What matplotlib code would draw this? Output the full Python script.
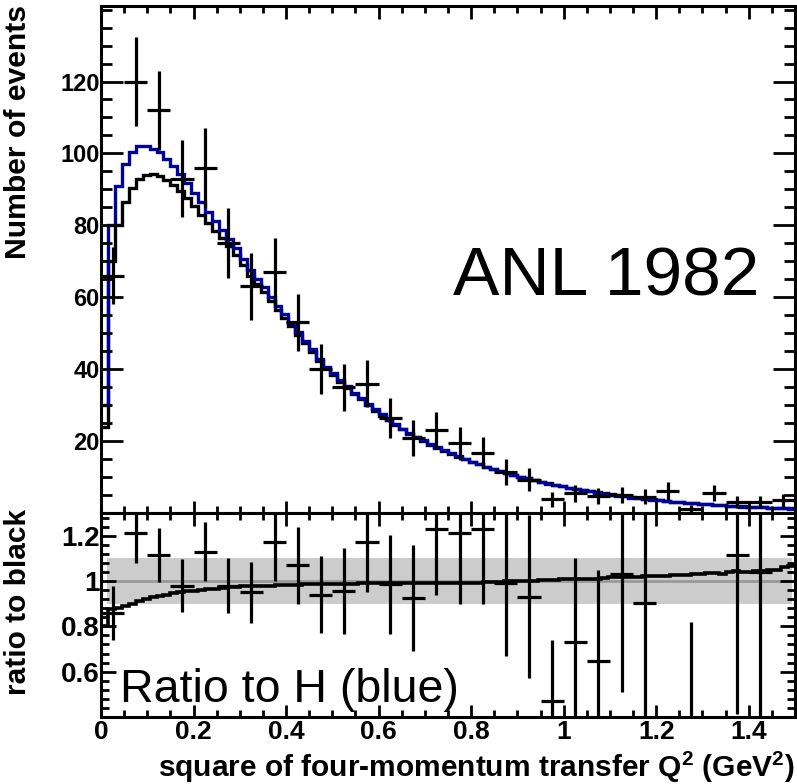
import numpy as np
import matplotlib
matplotlib.use("Agg")
import matplotlib.pyplot as plt
from matplotlib.ticker import MultipleLocator, FixedLocator, FuncFormatter

plt.rcParams['font.family'] = ['Liberation Sans', 'DejaVu Sans']
plt.rcParams['mathtext.fontset'] = 'custom'
plt.rcParams['mathtext.rm'] = 'Liberation Sans'
plt.rcParams['mathtext.bf'] = 'Liberation Sans:bold'

# MC histograms: 100 bins between 0 and 1.5 GeV^2
q2_lo, q2_hi, n_bins = 0.0, 1.5, 100

blue_h = [30, 80, 91, 97, 100.5, 102, 102, 101.3, 100.3, 98.5,
          96.6, 94.3, 91.8, 89.1, 86.4, 83.6, 81.2, 78.8, 76.3, 73.6,
          70.7, 67.5, 65.2, 62.8, 60.2, 57.6, 55.3, 52.8, 50.3, 47.9,
          45.5, 42.8, 40.7, 38.8, 37.0, 35.2, 33.5, 31.9, 30.3, 28.8,
          27.4, 26.0, 24.7, 23.5, 22.3, 21.2, 20.2, 19.2, 18.3, 17.4,
          16.6, 15.8, 15.0, 14.3, 13.6, 12.9, 12.3, 11.7, 11.1, 10.6,
          10.1, 9.6, 9.1, 8.7, 8.2, 7.8, 7.4, 7.0, 6.7, 6.3,
          6.0, 5.7, 5.4, 5.1, 4.8, 4.6, 4.3, 4.1, 3.9, 3.7,
          3.5, 3.3, 3.1, 2.95, 2.8, 2.65, 2.5, 2.4, 2.25, 2.15,
          2.0, 1.9, 1.8, 1.7, 1.6, 1.55, 1.45, 1.4, 1.3, 1.25]

black_h = [24, 70, 80, 86.5, 90.5, 92.8, 94.0, 94.2, 93.8, 92.6,
           91.3, 89.6, 87.7, 85.3, 83.0, 80.6, 78.5, 76.4, 74.2, 71.7,
           69.0, 66.0, 63.8, 61.5, 59.0, 56.5, 54.3, 51.9, 49.5, 47.2,
           44.8, 42.2, 40.2, 38.3, 36.5, 34.8, 33.1, 31.6, 30.0, 28.5,
           27.1, 25.8, 24.5, 23.3, 22.1, 21.0, 20.0, 19.0, 18.1, 17.25,
           16.45, 15.65, 14.9, 14.2, 13.5, 12.85, 12.25, 11.65, 11.1, 10.6,
           10.1, 9.6, 9.1, 8.75, 8.25, 7.85, 7.45, 7.05, 6.77, 6.35,
           6.06, 5.76, 5.47, 5.18, 4.88, 4.68, 4.38, 4.18, 3.98, 3.78,
           3.58, 3.38, 3.18, 3.03, 2.88, 2.73, 2.58, 2.48, 2.33, 2.22,
           2.08, 1.98, 1.87, 1.77, 1.67, 1.62, 1.52, 1.47, 1.38, 1.33]

# ANL 1982 data, bins of 0.05 GeV^2
data_q2 = [0.025, 0.075, 0.125, 0.175, 0.225, 0.275, 0.325, 0.375, 0.425, 0.475,
           0.525, 0.575, 0.625, 0.675, 0.725, 0.775, 0.825, 0.875, 0.925, 0.975,
           1.025, 1.075, 1.125, 1.175, 1.225, 1.275, 1.325, 1.375, 1.425, 1.475]
data_n = [66, 120, 112, 93, 96, 75, 63, 67, 53, 40,
          35, 36, 26.4, 20.8, 23, 19.4, 16.7, 11.4, 9.3, 3.8,
          5.5, 4.7, 5.0, 4.5, 6.2, 1.2, 5.5, 3.0, 3.0, 3.5]
data_err = [8, 12.3, 11, 10.8, 11, 9.7, 9.2, 9.5, 8, 7,
            6.5, 6.5, 5.5, 5, 5, 4.6, 4.3, 3.6, 3.2, 2,
            2.4, 2.2, 2.2, 2.1, 2.5, 1.1, 2.3, 1.7, 1.7, 1.9]
data_halfwidth = 0.025

# data / blue
ratio_val = [0.86, 1.21, 1.115, 0.98, 1.13, 0.98, 0.95, 1.17, 1.07, 0.94,
             0.956, 1.17, 0.985, 0.925, 1.23, 1.21, 1.23, 0.99, 0.93, 0.47,
             0.73, 0.647, 1.03, 0.905, 1.9, 0.35, 2.2, 1.115, 1.04, 2.5]
ratio_err = [0.12, 0.13, 0.12, 0.115, 0.13, 0.12, 0.135, 0.17, 0.17, 0.17,
             0.19, 0.22, 0.22, 0.235, 0.29, 0.31, 0.33, 0.32, 0.36, 0.27,
             0.37, 0.40, 0.52, 0.6, 0.55, 0.47, 0.8, 0.7, 0.7, 1.0]

edges = np.linspace(q2_lo, q2_hi, n_bins + 1)
blue_h = np.array(blue_h)
black_h = np.array(black_h)
curve_ratio = black_h / blue_h

fig = plt.figure(figsize=(7.97, 7.84), dpi=100)
ax = fig.add_axes([101 / 797, (784 - 513) / 784, 694 / 797, 507 / 784])
axr = fig.add_axes([101 / 797, (784 - 717) / 784, 694 / 797, 204 / 784])

dark_blue = '#00009c'

# ---- top panel
ax.stairs(black_h, edges, baseline=None, color='black', lw=2.4)
ax.stairs(blue_h, edges, baseline=None, color=dark_blue, lw=2.4)
ax.errorbar(data_q2, data_n, xerr=data_halfwidth, yerr=data_err, fmt='none',
            ecolor='black', elinewidth=2.3, capsize=0)
ax.set_xlim(q2_lo, q2_hi)
ax.set_ylim(0, 141)
ax.text(1.424, 60.6, 'ANL 1982', ha='right', va='baseline', fontsize=50)

ax.yaxis.set_major_locator(FixedLocator([20, 40, 60, 80, 100, 120]))
ax.yaxis.set_minor_locator(MultipleLocator(5))
ax.xaxis.set_major_locator(MultipleLocator(0.2))
ax.xaxis.set_minor_locator(MultipleLocator(0.05))
ax.tick_params(axis='both', which='both', direction='in', top=True, right=True,
               labelbottom=False, width=2)
ax.tick_params(axis='y', which='major', length=16, labelsize=17, pad=1)
ax.tick_params(axis='y', which='minor', length=8)
ax.tick_params(axis='x', which='major', length=9)
ax.tick_params(axis='x', which='minor', length=5)
for lab in ax.get_yticklabels():
    lab.set_fontweight('bold')

# ---- ratio panel
axr.axhspan(0.9, 1.1, xmin=0.008, xmax=0.995, color='#cccccc', lw=0, zorder=0)
axr.axhline(1.0, xmin=0.008, xmax=0.995, color='#999999', lw=2, zorder=1)
axr.stairs(curve_ratio, edges, baseline=None, color='black', lw=2.6, zorder=2)
axr.errorbar(data_q2, ratio_val, xerr=data_halfwidth, yerr=ratio_err, fmt='none',
             ecolor='black', elinewidth=2.3, capsize=0, zorder=3)
axr.set_xlim(q2_lo, q2_hi)
axr.set_ylim(0.4, 1.3)
axr.text(0.041, 0.466, 'Ratio to H (blue)', ha='left', va='baseline', fontsize=33.5)

axr.yaxis.set_major_locator(FixedLocator([0.6, 0.8, 1.0, 1.2]))
axr.yaxis.set_minor_locator(MultipleLocator(0.04))
axr.xaxis.set_major_locator(MultipleLocator(0.2))
axr.xaxis.set_minor_locator(MultipleLocator(0.05))
axr.xaxis.set_major_formatter(FuncFormatter(lambda v, p: '%g' % round(v, 2)))
axr.yaxis.set_major_formatter(FuncFormatter(lambda v, p: '%g' % round(v, 2)))
axr.tick_params(axis='both', which='both', direction='in', top=True, right=True, width=2)
axr.tick_params(axis='y', which='major', length=11, labelsize=20, pad=1)
axr.tick_params(axis='y', which='minor', length=5.5)
axr.tick_params(axis='x', which='major', length=9, labelsize=19, pad=2)
axr.tick_params(axis='x', which='minor', length=5)
for lab in axr.get_yticklabels() + axr.get_xticklabels():
    lab.set_fontweight('bold')

for a in (ax, axr):
    for sp in a.spines.values():
        sp.set_linewidth(2.2)

# axis titles
fig.text(18 / 797, 1 - 5 / 784, 'Number of events', rotation=90, ha='center', va='top',
         fontsize=21.7, fontweight='bold')
fig.text(18 / 797, (784 - 509) / 784, 'ratio to black', rotation=90, ha='center', va='top',
         fontsize=21.5, fontweight='bold')
fig.text(795 / 797, (784 - 777) / 784,
         r'square of four-momentum transfer Q$^{\mathbf{2}}$ (GeV$^{\mathbf{2}}$)',
         ha='right', va='baseline', fontsize=21.5, fontweight='bold')

fig.savefig('out.png', dpi=100)
